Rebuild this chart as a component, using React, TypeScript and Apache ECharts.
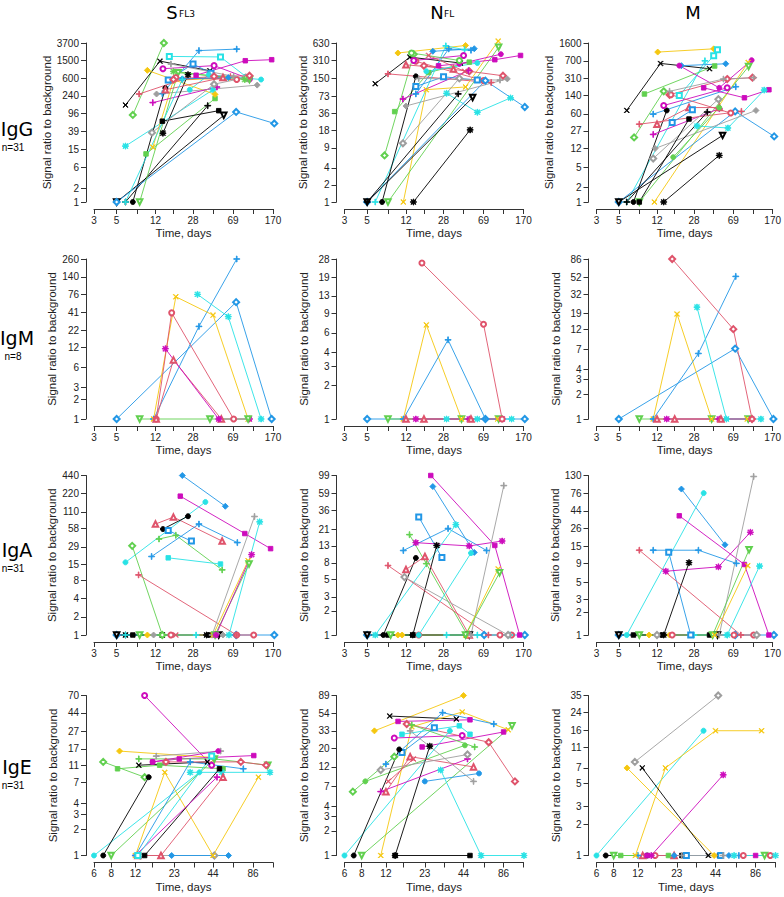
import React, { useEffect, useRef } from 'react';
import * as echarts from 'echarts';

// ---------- colours / symbols (R default palette) ----------
const COLORS: Record<string, string> = {
  k: '#000000', r: '#DF536B', g: '#61D04F', b: '#2297E6',
  c: '#28E2E5', m: '#CD0BBC', y: '#F5C710', a: '#9E9E9E',
};
const PLUS = 'path://M4.45,0H5.55V10H4.45ZM0,4.45H10V5.55H0Z';
const CROSS = 'path://M0.8,0L10,9.2L9.2,10L0,0.8ZM9.2,0L10,0.8L0.8,10L0,9.2Z';
const STAR = 'path://M4.4,0H5.6V10H4.4ZM0,4.4H10V5.6H0ZM1.5,0.7L9.3,8.5L8.5,9.3L0.7,1.5ZM8.5,0.7L9.3,1.5L1.5,9.3L0.7,8.5Z';

// ---------- axis ticks ----------
const xTicksTop = [3, 5, 8, 12, 18, 28, 44, 69, 108, 170];
const xLabelsTop = [3, 5, 12, 28, 69, 170];
const xTicksIgE = [6, 8, 12, 16, 23, 32, 44, 62, 86, 120];
const xLabelsIgE = [6, 8, 12, 23, 44, 86];

const yIgG_S = [1, 2, 6, 15, 39, 96, 240, 600, 1500, 3700];
const yIgG_N = [1, 2, 4, 9, 18, 36, 73, 150, 310, 630];
const yIgG_M = [1, 2, 5, 12, 27, 60, 140, 310, 700, 1600];
const yIgM_S = [1, 2, 3, 6, 12, 22, 41, 76, 140, 260];
const yIgM_N = [1, 2, 3, 4, 6, 9, 13, 19, 28];
const yIgM_M = [1, 2, 3, 4, 7, 12, 19, 32, 52, 86];
const yIgA_S = [1, 2, 4, 8, 15, 29, 58, 110, 220, 440];
const yIgA_N = [1, 2, 3, 5, 8, 13, 21, 36, 59, 99];
const yIgA_M = [1, 2, 3, 5, 9, 15, 26, 44, 76, 130];
const yIgE_S = [1, 2, 3, 4, 7, 11, 17, 27, 44, 70];
const yIgE_N = [1, 2, 3, 4, 7, 12, 20, 33, 54, 89];
const yIgE_M = [1, 2, 3, 5, 7, 11, 16, 24, 35];

type Ser = [string, number[][]];

// ---------- data: [subject code, [[day, ratio], ...]] ----------
const igG_S: Ser[] = [
  ['gd', [[7.2, 90], [14.5, 3700]]],
  ['kx', [[6.1, 150], [13.3, 1450], [41, 880]]],
  ['c*', [[6.1, 18], [44, 330]]],
  ['gS', [[9.7, 12], [46, 210]]],
  ['yx', [[11.3, 17], [18, 540], [60, 600]]],
  ['yD', [[10, 900], [46, 260]]],
  ['b+', [[14, 270], [32, 2500], [75, 2700]]],
  ['cs', [[16.4, 1850], [52, 1800], [95, 620]]],
  ['mS', [[30, 700], [91, 1480], [165, 1560]]],
  ['mo', [[14.2, 980], [45, 1150], [100, 580]]],
  ['bs', [[16, 550], [28, 1250], [42, 780]]],
  ['cO', [[26, 330], [40, 720], [130, 560]]],
  ['r+', [[8.3, 265], [22, 560], [65, 650]]],
  ['aD', [[12.3, 265], [119, 420]]],
  ['m+', [[11.3, 170], [48, 380]]],
  ['kO', [[7.2, 1], [15, 360]]],
  ['kS', [[14, 65], [50, 112]]],
  ['k*', [[14.2, 35], [25, 720]]],
  ['k+', [[6.1, 1], [39, 145]]],
  ['kv', [[5, 1], [56, 88]]],
  ['bd', [[5, 1], [74, 105], [175, 58]]],
  ['gv', [[8.4, 1], [20, 800], [100, 560]]],
  ['ad', [[11.1, 36], [45, 440], [92, 620]]],
  ['r^', [[15, 330], [55, 620]]],
  ['ro', [[19, 620], [75, 560]]],
  ['rd', [[18, 560], [45, 660], [100, 680]]],
  ['bD', [[22, 580], [62, 620]]],
  ['g*', [[18, 850], [90, 560]]],
  ['a+', [[17, 1250], [70, 660]]],
  ['c+', [[6.1, 1], [22, 560]]],
];

const igG_N: Ser[] = [
  ['yD', [[10, 420], [46, 570]]],
  ['gd', [[7.4, 6.6], [14.3, 400]]],
  ['gS', [[9.3, 39], [20, 190], [50, 290]]],
  ['kx', [[6, 121], [13.1, 355], [41, 280]]],
  ['r+', [[8, 180], [82, 127]]],
  ['c+', [[6, 1], [29.5, 560], [45, 480]]],
  ['bD', [[22, 450], [56, 500]]],
  ['b+', [[15, 80], [31.5, 495], [52, 470]]],
  ['yx', [[11.3, 1], [19, 95], [46, 106], [96, 680]]],
  ['gv', [[8, 1], [97, 530]]],
  ['mS', [[25, 250], [89, 320], [159, 380]]],
  ['mO', [[40, 270], [102, 400]]],
  ['ro', [[15, 300], [69, 137]]],
  ['rd', [[18, 250], [50, 200], [107, 167]]],
  ['c*', [[30, 82], [60, 38], [127, 68]]],
  ['bd', [[5, 1], [72, 137], [175, 47]]],
  ['kv', [[5, 1], [54, 69]]],
  ['k+', [[5, 1], [39, 80]]],
  ['kO', [[7, 1], [15, 163]]],
  ['k*', [[14.2, 1], [51, 18.6]]],
  ['ad', [[11.2, 10.8], [40, 150]]],
  ['aD', [[12, 49], [118, 147]]],
  ['m+', [[11.2, 65], [49, 205]]],
  ['r^', [[12, 260], [35, 220]]],
  ['mo', [[14.3, 310], [44, 380]]],
  ['bs', [[15, 108], [28, 160], [60, 140]]],
  ['rx', [[20, 380], [45, 200]]],
  ['go', [[13.6, 420], [40, 310]]],
  ['a+', [[16, 150], [100, 140]]],
  ['cO', [[19, 200], [60, 280]]],
];

const igG_M: Ser[] = [
  ['yD', [[12.2, 1050], [44, 1220]]],
  ['cs', [[20, 140], [44, 890], [48, 1170]]],
  ['c+', [[6, 1], [36, 700]]],
  ['kx', [[6, 70], [13, 620], [40, 485]]],
  ['bD', [[21, 560], [58, 610]]],
  ['gS', [[9, 150], [45, 550]]],
  ['gd', [[7.1, 20], [14, 170]]],
  ['rd', [[16, 145], [60, 300], [107, 320]]],
  ['mO', [[20, 560], [50, 200], [105, 720]]],
  ['yx', [[11.3, 1], [97, 650]]],
  ['gv', [[8, 1], [98, 540]]],
  ['bd', [[5, 1], [72, 67], [176, 21]]],
  ['kv', [[5, 1], [54, 22]]],
  ['k*', [[14, 1], [50, 8.7]]],
  ['kO', [[7, 1], [15, 70]]],
  ['m+', [[11, 23], [50, 76]]],
  ['r+', [[8, 37], [83, 67]]],
  ['b+', [[11, 59], [73, 210]]],
  ['mS', [[35, 200], [89, 126], [156, 183]]],
  ['c*', [[30, 34], [61, 31], [140, 180]]],
  ['aD', [[11.5, 12], [116, 70]]],
  ['ad', [[11, 7.5], [49, 118]]],
  ['mo', [[14, 88], [60, 200]]],
  ['ro', [[16.5, 145], [65, 62]]],
  ['r^', [[12, 37], [25, 80], [50, 80]]],
  ['gO', [[17.4, 8], [50, 80]]],
  ['bs', [[17, 40], [27, 72]]],
  ['a+', [[16, 170], [55, 300], [110, 320]]],
  ['k+', [[6, 1], [38, 65]]],
  ['kS', [[8, 1], [25, 47]]],
];

const igM_S: Ser[] = [
  ['bd', [[5, 1], [74, 58], [165, 1]]],
  ['b+', [[11.5, 1], [32, 25], [75, 260]]],
  ['yx', [[11.5, 1], [19, 70], [44, 37], [97, 1]]],
  ['c*', [[31, 76], [62, 35], [130, 1]]],
  ['ro', [[12.2, 1], [17.3, 40], [70, 1]]],
  ['r^', [[12.2, 1], [18, 7.8], [53, 1]]],
  ['m*', [[15, 11.5], [50, 1], [100, 1]]],
  ['gv', [[8.4, 1], [41, 1], [97, 1]]],
];

const igM_N: Ser[] = [
  ['bd', [[5, 1], [72, 1], [175, 1]]],
  ['gv', [[8, 1], [42, 1], [97, 1]]],
  ['yx', [[11.3, 1], [19, 7.1], [42, 1], [95, 1]]],
  ['b+', [[11.3, 1], [31, 5.2], [72, 1]]],
  ['c*', [[30, 1], [60, 1], [130, 1]]],
  ['m*', [[15, 1], [50, 1], [105, 1]]],
  ['r^', [[12, 1], [18, 1], [52, 1]]],
  ['ro', [[17.2, 25.8], [69, 7.2], [105, 1]]],
];

const igM_M: Ser[] = [
  ['bd', [[5, 1], [72, 7.1], [173, 1]]],
  ['gv', [[8, 1], [42, 1], [97, 1]]],
  ['yx', [[11, 1], [19, 18.6], [42, 1], [95, 1]]],
  ['b+', [[11, 1], [31, 6.2], [73, 53]]],
  ['c*', [[30, 22.5], [59, 1], [130, 1]]],
  ['m*', [[15, 1], [50, 1], [105, 1]]],
  ['r^', [[12, 1], [18, 1], [52, 1]]],
  ['rd', [[17, 86], [69, 12.2], [106, 1]]],
];

const igA_S: Ser[] = [
  ['bd', [[5, 1], [74, 1], [175, 1]]],
  ['kv', [[5, 1], [50, 1]]],
  ['k*', [[6.1, 1], [14, 1], [38, 1]]],
  ['kS', [[7.2, 1], [14, 1], [40, 1]]],
  ['yD', [[10, 1], [45, 1]]],
  ['aD', [[11.5, 1], [55, 1]]],
  ['ro', [[17, 1], [75, 1], [110, 1]]],
  ['rx', [[19, 1], [45, 1]]],
  ['c+', [[6.1, 1], [30, 1]]],
  ['bD', [[22, 440], [58, 136]]],
  ['mS', [[21, 200], [90, 48], [161, 27]]],
  ['cO', [[6.1, 16], [37, 160]]],
  ['r^', [[12, 69], [18, 90], [54, 36]]],
  ['kO', [[14.2, 57], [25, 93]]],
  ['bs', [[16, 54], [27, 36]]],
  ['g+', [[13, 39], [19, 45], [54, 12]]],
  ['b+', [[11, 20], [32, 69], [76, 34]]],
  ['cS', [[16, 19], [52, 15]]],
  ['gd', [[7.1, 30], [14, 1]]],
  ['r+', [[8.2, 9.9], [75, 1]]],
  ['a+', [[43, 1], [112, 92]]],
  ['c*', [[63, 1], [126, 75]]],
  ['yx', [[44, 1], [97, 17]]],
  ['gv', [[8.4, 1], [46, 1], [99, 15]]],
  ['m*', [[47, 1], [105, 21.5]]],
];

const igA_N: Ser[] = [
  ['bd', [[5, 1], [70, 1], [175, 1]]],
  ['kv', [[5, 1], [50, 1]]],
  ['kS', [[8, 1], [14, 1], [47, 1]]],
  ['yD', [[10, 1], [11, 1]]],
  ['ro', [[16, 1], [100, 1], [130, 1]]],
  ['c+', [[30, 1], [60, 1], [125, 1]]],
  ['mS', [[21, 99], [89, 13.2], [156, 1]]],
  ['bD', [[22, 72], [56, 10.8]]],
  ['bs', [[16, 30], [27, 9.3]]],
  ['b+', [[11.3, 11.4], [31, 21.5], [74, 11.4]]],
  ['m*', [[15, 14.3], [50, 13], [105, 15]]],
  ['c*', [[6, 1], [37, 24]]],
  ['kO', [[7.2, 1], [15, 9.2]]],
  ['k*', [[14, 1], [24, 13.2]]],
  ['g+', [[13, 18], [19, 7.8], [48, 1]]],
  ['r^', [[12, 6.6], [18.4, 9.6], [50, 1]]],
  ['r+', [[8, 7.4], [77, 1]]],
  ['ad', [[11.6, 5.3], [120, 1]]],
  ['a+', [[52, 1], [109, 74]]],
  ['yx', [[46, 1], [96, 6.7]]],
  ['gv', [[8.5, 1], [46, 1], [99, 6]]],
  ['cO', [[16, 1], [52, 10.6]]],
];

const igA_M: Ser[] = [
  ['bd', [[5, 1], [72, 1], [175, 1]]],
  ['kv', [[5, 1], [48, 1]]],
  ['kS', [[7, 1], [13.5, 1], [40, 1]]],
  ['yD', [[10, 1], [16, 1]]],
  ['ro', [[17, 1], [70, 1], [110, 1]]],
  ['ad', [[12, 1], [118, 1]]],
  ['c+', [[28, 1], [60, 1]]],
  ['bD', [[21, 86], [57, 15.7]]],
  ['cO', [[6, 1], [35, 76]]],
  ['mS', [[20, 38], [89, 8.6], [156, 1]]],
  ['b+', [[11, 13.3], [31, 13.3], [74, 8.9]]],
  ['bs', [[15.7, 12.5], [26, 1]]],
  ['m*', [[14.7, 7], [49, 8], [102, 23]]],
  ['k*', [[14, 1], [25, 9.1]]],
  ['r+', [[8, 13.3], [82, 1]]],
  ['a+', [[50, 1], [110, 126]]],
  ['gv', [[8, 1], [43, 1], [99, 13.5]]],
  ['yx', [[45, 1], [96, 8.3]]],
  ['c*', [[60, 1], [126, 8.2]]],
];

const igE_S: Ser[] = [
  ['ad', [[13, 1], [45, 1]]],
  ['bD', [[22, 1], [57, 1]]],
  ['mo', [[14, 70], [43, 11]]],
  ['yD', [[9.2, 16], [44, 13.5]]],
  ['gd', [[7, 12], [14, 8]]],
  ['gS', [[8.9, 10], [18, 11], [52, 10]]],
  ['c*', [[30, 9.1], [51, 9.1], [114, 9.1]]],
  ['kx', [[12.7, 11], [40, 12]]],
  ['cO', [[6, 1], [35, 9.1]]],
  ['kO', [[7, 1], [15, 8]]],
  ['gv', [[8, 1], [45, 13], [110, 11]]],
  ['yx', [[12, 1], [19.6, 9.1], [44, 1], [94, 8]]],
  ['kS', [[14, 1], [49, 10]]],
  ['m+', [[12, 1], [47, 8]]],
  ['r^', [[12.5, 1], [18.4, 1], [52, 8]]],
  ['b+', [[12, 1], [30, 12], [73, 10]]],
  ['mS', [[16, 12], [25, 13], [87, 14.2]]],
  ['rd', [[20, 12], [70, 12], [107, 11]]],
  ['g+', [[12.7, 13], [45, 13]]],
  ['a+', [[17, 14], [50, 16]]],
  ['mO', [[16, 12], [48, 16]]],
  ['cs', [[12.5, 1], [43, 14]]],
];

const igE_N: Ser[] = [
  ['kS', [[14, 1], [49, 1]]],
  ['yD', [[9.9, 33], [44, 89]]],
  ['kx', [[12.8, 50], [39, 46]]],
  ['yx', [[11, 1], [18.5, 37], [43, 56], [93, 34]]],
  ['mS', [[14.7, 43], [49, 45]]],
  ['b+', [[12, 13], [31, 55], [73, 40]]],
  ['gv', [[8, 1], [99, 38]]],
  ['mS', [[22, 21], [86, 32]]],
  ['mo', [[13.8, 27], [43, 29]]],
  ['cS', [[15.7, 30], [41, 38], [49, 30]]],
  ['bs', [[15.7, 18], [27, 36]]],
  ['rd', [[17, 40], [67, 24], [104, 8]]],
  ['bO', [[23, 8], [57, 10]]],
  ['gO', [[8.5, 8], [45, 22]]],
  ['gd', [[6.9, 6], [13.8, 16]]],
  ['cO', [[6, 1], [35, 33]]],
  ['kO', [[7, 1], [15, 19.6]]],
  ['k*', [[14, 1], [25, 21.5]]],
  ['c*', [[30, 11], [59, 1], [121, 1]]],
  ['r^', [[12, 6], [18, 16], [52, 12]]],
  ['m+', [[11, 6], [47, 15]]],
  ['ad', [[11, 11], [47, 17]]],
  ['a+', [[18, 33], [52, 8]]],
  ['g+', [[18.5, 39], [53, 21]]],
  ['rx', [[12.5, 8], [19, 15]]],
];

const igE_M: Ser[] = [
  ['kO', [[7, 1], [14, 1]]],
  ['gv', [[8, 1], [100, 1]]],
  ['gS', [[9, 1], [20, 1]]],
  ['r^', [[13, 1], [22, 1]]],
  ['mS', [[14, 1], [86, 1]]],
  ['bD', [[22, 1], [55, 1]]],
  ['kS', [[25, 1], [47, 1]]],
  ['b+', [[12, 1], [65, 1]]],
  ['ro', [[16, 1], [70, 1], [110, 1]]],
  ['c*', [[60, 1], [120, 1]]],
  ['bs', [[27, 1], [48, 1]]],
  ['a+', [[25, 1], [50, 1]]],
  ['ad', [[11.4, 8], [46, 35]]],
  ['cO', [[6, 1], [36, 16]]],
  ['yx', [[11.5, 1], [19, 7], [44, 16], [95, 16]]],
  ['yD', [[10, 7], [43, 1]]],
  ['kx', [[12.9, 7], [39, 1]]],
  ['m*', [[15, 1], [50, 6]]],
];

// ---------- layout ----------
const COL_LEFT = [94, 344.5, 596.5];
const GRID_W = 179;
const ROW_TOP = [43, 259, 475.5, 695.5];
const ROW_H = [159, 160, 159.5, 160];

const PANELS = [
  { data: igG_S, y: yIgG_S, r: 0, c: 0 },
  { data: igG_N, y: yIgG_N, r: 0, c: 1 },
  { data: igG_M, y: yIgG_M, r: 0, c: 2 },
  { data: igM_S, y: yIgM_S, r: 1, c: 0 },
  { data: igM_N, y: yIgM_N, r: 1, c: 1 },
  { data: igM_M, y: yIgM_M, r: 1, c: 2 },
  { data: igA_S, y: yIgA_S, r: 2, c: 0 },
  { data: igA_N, y: yIgA_N, r: 2, c: 1 },
  { data: igA_M, y: yIgA_M, r: 2, c: 2 },
  { data: igE_S, y: yIgE_S, r: 3, c: 0 },
  { data: igE_N, y: yIgE_N, r: 3, c: 1 },
  { data: igE_M, y: yIgE_M, r: 3, c: 2 },
];

const L = Math.log10;
const AX_FONT = 'Liberation Sans, Arial, Helvetica, sans-serif';
const TITLE_FONT = 'DejaVu Sans, Liberation Sans, sans-serif';
const AX_COLOR = '#333';

function symbolFor(code: string) {
  const s = code.slice(1);
  switch (s) {
    case 'o': return { symbol: 'emptyCircle', size: 5, rot: 0 };
    case '^': return { symbol: 'emptyTriangle', size: 5.5, rot: 0 };
    case 'v': return { symbol: 'emptyTriangle', size: 5.5, rot: 180 };
    case 'd': return { symbol: 'emptyDiamond', size: 6, rot: 0 };
    case 's': return { symbol: 'emptyRect', size: 5, rot: 0 };
    case 'S': return { symbol: 'rect', size: 4.5, rot: 0 };
    case 'O': return { symbol: 'circle', size: 5, rot: 0 };
    case 'D': return { symbol: 'diamond', size: 6, rot: 0 };
    case '+': return { symbol: PLUS, size: 6, rot: 0 };
    case 'x': return { symbol: CROSS, size: 5, rot: 0 };
    default: return { symbol: STAR, size: 6, rot: 0 };
  }
}

function fmt(labels: number[]) {
  return (v: number) => {
    const f = labels.find((l) => Math.abs(L(l) - v) < 1e-6);
    return f === undefined ? '' : String(f);
  };
}

function buildOption() {
  const grid: any[] = [];
  const xAxis: any[] = [];
  const yAxis: any[] = [];
  const series: any[] = [];
  PANELS.forEach((p, i) => {
    const isE = p.r === 3;
    const xt = isE ? xTicksIgE : xTicksTop;
    const xl = isE ? xLabelsIgE : xLabelsTop;
    grid.push({ left: COL_LEFT[p.c], top: ROW_TOP[p.r], width: GRID_W, height: ROW_H[p.r], containLabel: false });
    xAxis.push({
      gridIndex: i, type: 'value', min: L(xt[0]), max: L(xt[xt.length - 1]), offset: 7,
      axisLine: { show: true, onZero: false, lineStyle: { color: AX_COLOR, width: 1 } },
      axisTick: { show: true, length: 5, customValues: xt.map(L), lineStyle: { color: AX_COLOR, width: 1 } },
      axisLabel: { show: true, customValues: xl.map(L), formatter: fmt(xl), fontSize: 10, margin: 6, color: '#222', fontFamily: AX_FONT },
      splitLine: { show: false },
      name: 'Time, days', nameLocation: 'middle', nameGap: 18,
      nameTextStyle: { fontSize: 11.5, color: '#222', fontFamily: AX_FONT },
    });
    yAxis.push({
      gridIndex: i, type: 'value', min: 0, max: L(p.y[p.y.length - 1]), offset: 8,
      axisLine: { show: true, onZero: false, lineStyle: { color: AX_COLOR, width: 1 } },
      axisTick: { show: true, length: 5, customValues: p.y.map(L), lineStyle: { color: AX_COLOR, width: 1 } },
      axisLabel: { show: true, customValues: p.y.map(L), formatter: fmt(p.y), fontSize: 10, margin: 7, color: '#222', fontFamily: AX_FONT },
      splitLine: { show: false },
      name: 'Signal ratio to background', nameLocation: 'middle', nameGap: 27,
      nameTextStyle: { fontSize: 11.5, color: '#222', fontFamily: AX_FONT },
    });
    p.data.forEach(([code, pts]) => {
      const col = COLORS[code[0]];
      const sy = symbolFor(code);
      series.push({
        type: 'line', xAxisIndex: i, yAxisIndex: i, name: code,
        data: pts.map(([d, v]) => [L(d), L(v)]),
        symbol: sy.symbol, symbolSize: sy.size, symbolRotate: sy.rot,
        showAllSymbol: true, clip: false, silent: true,
        lineStyle: { color: col, width: 0.9 },
        itemStyle: { color: col, borderColor: col, borderWidth: 0.9 },
      });
    });
  });

  const colTitles = [
    { main: 'S', sub: 'FL3', x: 172 },
    { main: 'N', sub: 'FL', x: 437 },
    { main: 'M', sub: '', x: 693 },
  ];
  const rowTitles = [
    { t: 'IgG', n: 'n=31', y: 129 },
    { t: 'IgM', n: 'n=8', y: 338 },
    { t: 'IgA', n: 'n=31', y: 550 },
    { t: 'IgE', n: 'n=31', y: 767 },
  ];
  const graphic: any[] = [];
  colTitles.forEach((c) => {
    graphic.push({ type: 'text', x: c.x, y: 12, style: { text: c.main, fontSize: 18, fontFamily: TITLE_FONT, fill: '#000', align: 'center', verticalAlign: 'middle' } });
    if (c.sub) graphic.push({ type: 'text', x: c.x + 7, y: 18, style: { text: c.sub, fontSize: 9, fontFamily: TITLE_FONT, fill: '#000', align: 'left', verticalAlign: 'bottom' } });
  });
  rowTitles.forEach((r) => {
    graphic.push({ type: 'text', x: 17, y: r.y, style: { text: r.t, fontSize: 19, fontFamily: TITLE_FONT, fill: '#000', align: 'center', verticalAlign: 'middle' } });
    graphic.push({ type: 'text', x: 13, y: r.y + 18, style: { text: r.n, fontSize: 10, fontFamily: AX_FONT, fill: '#000', align: 'center', verticalAlign: 'middle' } });
  });

  return { animation: false, backgroundColor: '#ffffff', grid, xAxis, yAxis, series, graphic };
}

export default function App() {
  const ref = useRef<HTMLDivElement>(null);
  useEffect(() => {
    if (!ref.current) return;
    const chart = echarts.init(ref.current, undefined, { renderer: 'svg' });
    chart.setOption(buildOption() as any);
    return () => chart.dispose();
  }, []);
  return <div ref={ref} style={{ position: 'fixed', left: 0, top: 0, width: 784, height: 897, background: '#fff' }} />;
}
